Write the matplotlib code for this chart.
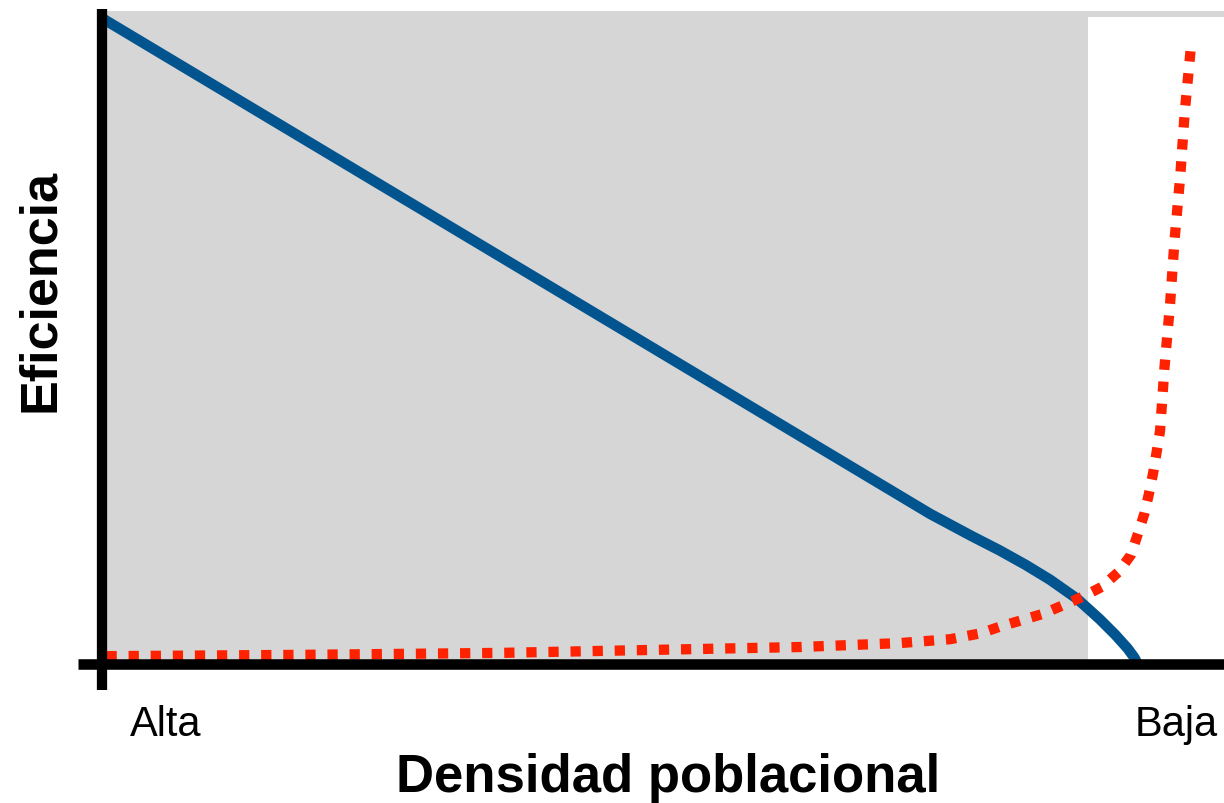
import matplotlib
matplotlib.use("Agg")
import matplotlib.pyplot as plt

# Data (density axis 0..100 from "Alta" to "Baja", efficiency 0..100)
blue_x = [0.0, 73.8, 77.5, 80.0, 82.3, 84.5, 86.9, 88.9, 90.3, 91.4, 92.0, 92.3]
blue_y = [98.9, 23.0, 19.6, 17.4, 15.2, 12.9, 10.0, 6.9, 4.5, 2.4, 1.0, 0.0]

red_x = [0.4, 17.6, 35.5, 44.4, 62.2, 71.1, 75.6, 78.3, 80.0, 83.9, 87.4, 89.1, 90.6,
         91.7, 92.3, 92.9, 93.3, 93.7, 94.0, 94.3, 94.7, 95.2, 95.6, 96.1, 96.5, 97.1]
red_y = [1.2, 1.4, 1.7, 2.0, 2.6, 3.2, 3.8, 4.7, 5.7, 7.7, 10.3, 11.8, 14.1,
         16.7, 19.8, 23.0, 26.0, 29.4, 32.5, 35.7, 45.5, 55.3, 65.1, 74.7, 84.5, 95.4]

shade_end = 87.9
x_labels = ["Alta", "Baja"]
x_title = "Densidad poblacional"
y_title = "Eficiencia"

W, H = 1224, 804
fig = plt.figure(figsize=(W / 100, H / 100), dpi=100)
plt.rcParams['font.family'] = ['Liberation Sans', 'DejaVu Sans']

left, right, top, bottom = 102, 1224, 12, 665
ax = fig.add_axes([left / W, 1 - bottom / H, (right - left) / W, (bottom - top) / H])
ax.set_xlim(0, 100)
ax.set_ylim(0, 100)
ax.axis('off')

gray = '#d6d6d6'
ax.axvspan(0, shade_end, ymin=0, ymax=1, color=gray, lw=0, zorder=0)
ax.fill_between([shade_end, 100], 99.1, 100, color=gray, lw=0, zorder=0)

ax.plot(blue_x, blue_y, color='#02548f', lw=7.6, solid_capstyle='butt',
        solid_joinstyle='round', zorder=3)
ax.plot(red_x, red_y, color='#ff2200', lw=7.4, linestyle=(0, (1, 1.15)),
        dash_capstyle='butt', zorder=4)

# axes lines
ax.plot([0, 0], [-4.0, 100.3], color='black', lw=7.4, solid_capstyle='butt',
        clip_on=False, zorder=5)
ax.plot([-2.14, 100], [0, 0], color='black', lw=7.6, solid_capstyle='butt',
        clip_on=False, zorder=5)

fig.text(166 / W, 1 - 736 / H, x_labels[0], ha='center', va='baseline', fontsize=30)
fig.text(1176 / W, 1 - 736 / H, x_labels[1], ha='center', va='baseline', fontsize=30)
fig.text(668 / W, 1 - 792 / H, x_title, ha='center', va='baseline', fontsize=38,
         fontweight='bold')
fig.text(41 / W, 1 - 290 / H, y_title, ha='center', va='center', rotation=90,
         fontsize=37.5, fontweight='bold')

fig.savefig('out.png', dpi=100)
